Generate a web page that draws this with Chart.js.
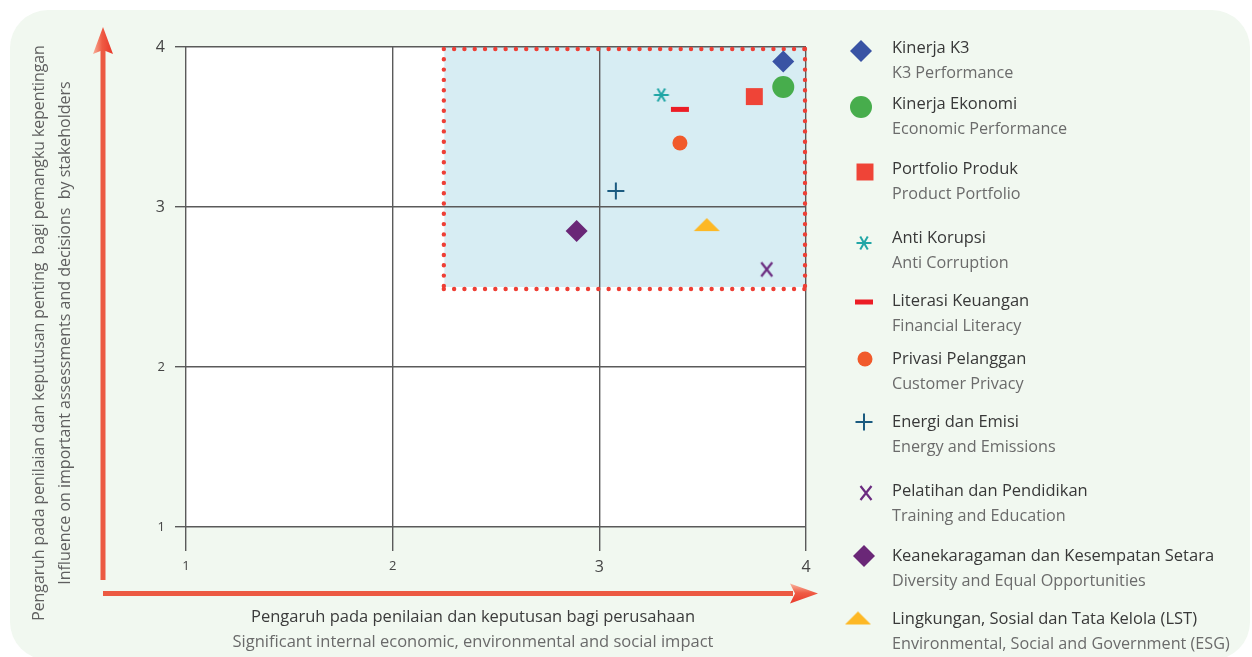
<!DOCTYPE html>
<html>
<head>
<meta charset="utf-8">
<script src="https://cdn.jsdelivr.net/npm/chart.js@4.4.1/dist/chart.umd.min.js"></script>
<style>
  html, body { margin: 0; padding: 0; background: #ffffff; }
  #wrap { position: relative; width: 1252px; height: 657px; }
  canvas { display: block; }
</style>
</head>
<body>
<div id="wrap"><canvas id="matrix" width="1252" height="657"></canvas></div>
<script>
// Material topics (Indonesian / English)
const topicsId = [
  'Kinerja K3',
  'Kinerja Ekonomi',
  'Portfolio Produk',
  'Anti Korupsi',
  'Literasi Keuangan',
  'Privasi Pelanggan',
  'Energi dan Emisi',
  'Pelatihan dan Pendidikan',
  'Keanekaragaman dan Kesempatan Setara',
  'Lingkungan, Sosial dan Tata Kelola (LST)'
];
const topicsEn = [
  'K3 Performance',
  'Economic Performance',
  'Product Portfolio',
  'Anti Corruption',
  'Financial Literacy',
  'Customer Privacy',
  'Energy and Emissions',
  'Training and Education',
  'Diversity and Equal Opportunities',
  'Environmental, Social and Government (ESG)'
];
// Significance to the company (x) and influence on stakeholders (y)
const impactX    = [3.89, 3.89, 3.75, 3.30, 3.39, 3.39, 3.08, 3.81, 2.89, 3.52];
const influenceY = [3.91, 3.75, 3.69, 3.70, 3.61, 3.40, 3.10, 2.61, 2.85, 2.89];
const tickValues = [1, 2, 3, 4];
// Material-topic zone
const zoneX = [2.25, 4];
const zoneY = [2.5, 4];

const FONT = "'Open Sans', 'Noto Sans', sans-serif";

// ---- custom marker images ----
function markerCanvas(w, h, draw) {
  const c = document.createElement('canvas');
  c.width = w; c.height = h;
  draw(c.getContext('2d'), w, h);
  return c;
}
const asteriskMark = markerCanvas(18, 18, (g, w, h) => {
  g.strokeStyle = '#21a6a6'; g.lineWidth = 2; g.lineCap = 'butt';
  const cx = w / 2, cy = h / 2, r = 7.5;
  [0, 60, 120].forEach(a => {
    const t = a * Math.PI / 180;
    g.beginPath();
    g.moveTo(cx - r * Math.cos(t), cy - r * Math.sin(t));
    g.lineTo(cx + r * Math.cos(t), cy + r * Math.sin(t));
    g.stroke();
  });
});
const xMark = markerCanvas(16, 18, (g, w, h) => {
  g.strokeStyle = '#6b2c80'; g.lineWidth = 2.2;
  g.beginPath();
  g.moveTo(2.5, 2); g.lineTo(w - 2.5, h - 2);
  g.moveTo(w - 2.5, 2); g.lineTo(2.5, h - 2);
  g.stroke();
});
const triMark = markerCanvas(28, 15, (g, w, h) => {
  g.fillStyle = '#fdb825';
  g.beginPath();
  g.moveTo(1, h - 1); g.lineTo(w - 1, h - 1); g.lineTo(w / 2, 1);
  g.closePath(); g.fill();
});

const markerStyles = [
  { pointStyle: 'rectRot', radius: 11,  color: '#3953a4', borderWidth: 0 },
  { pointStyle: 'circle',  radius: 11,  color: '#47ad4c', borderWidth: 0 },
  { pointStyle: 'rect',    radius: 12,  color: '#ef4437', borderWidth: 0 },
  { pointStyle: asteriskMark, radius: 9, color: '#21a6a6', borderWidth: 0 },
  { pointStyle: 'line',    radius: 9,   color: '#ec1d25', borderWidth: 5 },
  { pointStyle: 'circle',  radius: 7.5, color: '#f15a2b', borderWidth: 0 },
  { pointStyle: 'cross',   radius: 8.5, color: '#1b5b80', borderWidth: 2 },
  { pointStyle: xMark,     radius: 9,   color: '#6b2c80', borderWidth: 0 },
  { pointStyle: 'rectRot', radius: 11,  color: '#6a2777', borderWidth: 0 },
  { pointStyle: triMark,   radius: 12,  color: '#fdb825', borderWidth: 0 }
];

// Legend layout
const legendMarkX = [861, 861, 865, 864, 864, 865, 864, 866, 864, 858];
const legendMarkY = [51, 107, 172, 243, 302, 359, 422, 493, 556, 618];
const legendTextY = [48, 104, 169, 238, 301, 359, 422, 491, 556, 619];
const legendTextX = 892;

function roundRect(ctx, x, y, w, h, r) {
  ctx.beginPath();
  ctx.moveTo(x + r, y);
  ctx.lineTo(x + w - r, y);
  ctx.arcTo(x + w, y, x + w, y + r, r);
  ctx.lineTo(x + w, y + h - r);
  ctx.arcTo(x + w, y + h, x + w - r, y + h, r);
  ctx.lineTo(x + r, y + h);
  ctx.arcTo(x, y + h, x, y + h - r, r);
  ctx.lineTo(x, y + r);
  ctx.arcTo(x, y, x + r, y, r);
  ctx.closePath();
}

const backdropPlugin = {
  id: 'backdrop',
  beforeDraw(chart) {
    const ctx = chart.ctx;
    const { left, right, top, bottom } = chart.chartArea;
    const xs = chart.scales.x, ys = chart.scales.y;
    ctx.save();
    ctx.fillStyle = '#ffffff';
    ctx.fillRect(0, 0, chart.width, chart.height);
    ctx.fillStyle = '#f1f8f0';
    roundRect(ctx, 10, 10, 1240, 650, 38);
    ctx.fill();
    ctx.fillStyle = '#ffffff';
    ctx.fillRect(left, top, right - left, bottom - top);
    const zx0 = xs.getPixelForValue(zoneX[0]), zx1 = xs.getPixelForValue(zoneX[1]);
    const zy0 = ys.getPixelForValue(zoneY[0]), zy1 = ys.getPixelForValue(zoneY[1]);
    ctx.fillStyle = '#d7edf3';
    ctx.fillRect(zx0, zy1, zx1 - zx0, zy0 - zy1);
    ctx.restore();
  },
  beforeDatasetsDraw(chart) {
    const ctx = chart.ctx;
    const xs = chart.scales.x, ys = chart.scales.y;
    const zx0 = xs.getPixelForValue(zoneX[0]) - 0.5, zx1 = xs.getPixelForValue(zoneX[1]) - 1;
    const zy0 = ys.getPixelForValue(zoneY[0]) + 2, zy1 = ys.getPixelForValue(zoneY[1]) + 2;
    ctx.save();
    ctx.strokeStyle = '#ee3f35';
    ctx.lineWidth = 4.4;
    ctx.lineCap = 'round';
    ctx.setLineDash([0, 10.3]);
    ctx.beginPath();
    ctx.moveTo(zx0, zy1); ctx.lineTo(zx1, zy1);
    ctx.moveTo(zx1, zy1); ctx.lineTo(zx1, zy0);
    ctx.moveTo(zx0, zy0); ctx.lineTo(zx1, zy0);
    ctx.moveTo(zx0, zy1); ctx.lineTo(zx0, zy0);
    ctx.stroke();
    ctx.restore();
  },
  afterDraw(chart) {
    const ctx = chart.ctx;
    ctx.save();
    // axis arrows
    const arrowColor = '#ec5a42';
    ctx.fillStyle = arrowColor;
    ctx.fillRect(100.5, 48, 5, 532);
    ctx.fillRect(103, 591, 690, 5);
    let g = ctx.createLinearGradient(93, 0, 113, 0);
    g.addColorStop(0, '#f8b09a'); g.addColorStop(0.45, '#ef5b44'); g.addColorStop(1, '#e8382a');
    ctx.fillStyle = g;
    ctx.beginPath();
    ctx.moveTo(103, 27); ctx.lineTo(113, 54); ctx.lineTo(103, 50); ctx.lineTo(93, 54);
    ctx.closePath(); ctx.fill();
    g = ctx.createLinearGradient(0, 584, 0, 604);
    g.addColorStop(0, '#f8b09a'); g.addColorStop(0.45, '#ef5b44'); g.addColorStop(1, '#e8382a');
    ctx.fillStyle = g;
    ctx.beginPath();
    ctx.moveTo(818, 593.5); ctx.lineTo(790, 603.5); ctx.lineTo(795, 593.5); ctx.lineTo(790, 583.5);
    ctx.closePath(); ctx.fill();

    // axis titles
    ctx.textAlign = 'center';
    ctx.textBaseline = 'middle';
    ctx.font = '16.5px ' + FONT;
    ctx.fillStyle = '#3b3b3b';
    ctx.fillText('Pengaruh pada penilaian dan keputusan bagi perusahaan', 473, 617);
    ctx.font = '16.5px ' + FONT;
    ctx.fillStyle = '#6a6a6a';
    ctx.fillText('Significant internal economic, environmental and social impact', 473, 642);
    ctx.save();
    ctx.translate(0, 333);
    ctx.rotate(-Math.PI / 2);
    ctx.fillStyle = '#5f5f5f';
    ctx.font = '15.8px ' + FONT;
    ctx.fillText('Pengaruh pada penilaian dan keputusan penting  bagi pemangku kepentingan', 0, 39);
    ctx.font = '16px ' + FONT;
    ctx.fillText('Influence on important assessments and decisions  by stakeholders', 0, 65);
    ctx.restore();

    // legend
    ctx.textAlign = 'left';
    topicsId.forEach((name, i) => {
      const m = markerStyles[i];
      ctx.fillStyle = m.color;
      ctx.strokeStyle = m.color;
      ctx.lineWidth = m.borderWidth;
      Chart.helpers.drawPoint(ctx, {
        pointStyle: m.pointStyle, radius: m.radius, rotation: 0, borderWidth: m.borderWidth
      }, legendMarkX[i], legendMarkY[i]);
      ctx.font = '16.5px ' + FONT;
      ctx.fillStyle = '#383838';
      ctx.fillText(name, legendTextX, legendTextY[i]);
      ctx.font = '16.2px ' + FONT;
      ctx.fillStyle = '#6b6b6b';
      ctx.fillText(topicsEn[i], legendTextX, legendTextY[i] + 25.5);
    });
    ctx.restore();
  }
};

const tickFont = (c) => ({
  family: FONT,
  size: c.tick && c.tick.value >= 3 ? 16 : 13
});

new Chart(document.getElementById('matrix'), {
  type: 'scatter',
  data: {
    datasets: topicsId.map((name, i) => ({
      label: name,
      data: [{ x: impactX[i], y: influenceY[i] }],
      pointStyle: markerStyles[i].pointStyle,
      pointRadius: markerStyles[i].radius,
      backgroundColor: markerStyles[i].color,
      borderColor: markerStyles[i].color,
      borderWidth: markerStyles[i].borderWidth
    }))
  },
  options: {
    responsive: false,
    animation: false,
    events: [],
    layout: { padding: { left: 146, top: 47, right: 446, bottom: 70 } },
    plugins: { legend: { display: false }, tooltip: { enabled: false } },
    scales: {
      x: {
        type: 'linear', min: 1, max: 4,
        afterBuildTicks: (s) => { s.ticks = tickValues.map(v => ({ value: v })); },
        afterFit: (s) => { s.height = 60; },
        grid: { color: '#5a5a5a', lineWidth: 1.4, tickLength: 24 },
        border: { display: false },
        ticks: { color: '#444444', padding: 7, font: tickFont }
      },
      y: {
        type: 'linear', min: 1, max: 4,
        afterBuildTicks: (s) => { s.ticks = tickValues.map(v => ({ value: v })); },
        afterFit: (s) => { s.width = 40; },
        grid: { color: '#5a5a5a', lineWidth: 1.4, tickLength: 11 },
        border: { display: false },
        ticks: { color: '#444444', padding: 10, font: tickFont }
      }
    }
  },
  plugins: [backdropPlugin]
});
</script>
</body>
</html>
